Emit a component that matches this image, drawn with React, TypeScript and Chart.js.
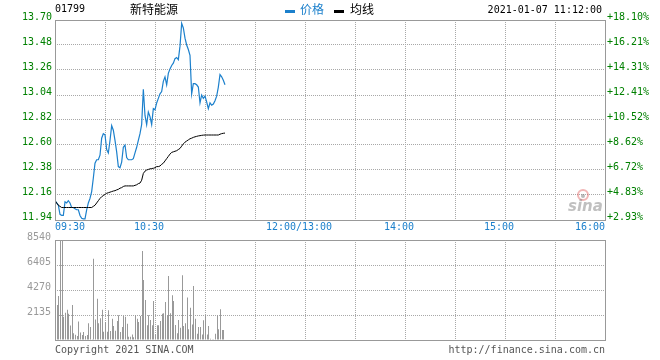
import React, { useEffect, useRef } from "react";
import { Chart, registerables } from "chart.js";
Chart.register(...registerables);

const stockCode = "01799";
const stockName = "新特能源";
const timestamp = "2021-01-07 11:12:00";
const legendPrice = "价格";
const legendAvg = "均线";
const copyrightText = "Copyright 2021 SINA.COM";
const urlText = "http://finance.sina.com.cn";

const priceTicks = [11.94, 12.16, 12.38, 12.6, 12.82, 13.04, 13.26, 13.48, 13.7];
const priceTickLabels = ["11.94", "12.16", "12.38", "12.60", "12.82", "13.04", "13.26", "13.48", "13.70"];
const pctLabels = ["+2.93%", "+4.83%", "+6.72%", "+8.62%", "+10.52%", "+12.41%", "+14.31%", "+16.21%", "+18.10%"];
const volTicks = [0, 2135, 4270, 6405, 8540];
const volTickLabels = ["", "2135", "4270", "6405", "8540"];
const timeTicks = [0, 30, 60, 90, 120, 150, 180, 210, 240, 270, 300, 330];
const timeLabels = ["09:30", "", "10:30", "", "", "12:00/13:00", "", "14:00", "", "15:00", "", "16:00"];

// minute-by-minute values from 09:30 to 11:12
const prices = [
  12.11, 12.09, 12.07, 11.99, 11.98, 11.98, 12.10, 12.09, 12.11, 12.09,
  12.05, 12.05, 12.04, 12.03, 12.03, 11.98, 11.955, 11.95, 11.95, 12.03,
  12.09, 12.13, 12.19, 12.31, 12.44, 12.47, 12.47, 12.51, 12.66, 12.70,
  12.69, 12.56, 12.53, 12.64, 12.77, 12.73, 12.64, 12.54, 12.41, 12.40,
  12.45, 12.58, 12.60, 12.49, 12.47, 12.47, 12.47, 12.48, 12.53, 12.58,
  12.64, 12.70, 12.78, 13.09, 12.86, 12.78, 12.89, 12.85, 12.78, 12.92,
  12.91, 12.97, 13.01, 13.05, 13.07, 13.16, 13.20, 13.13, 13.23, 13.27,
  13.30, 13.32, 13.36, 13.37, 13.35, 13.47, 13.67, 13.63, 13.54, 13.48,
  13.44, 13.39, 13.05, 13.14, 13.14, 13.13, 13.11, 12.97, 13.04, 13.01,
  13.03, 12.98, 12.92, 12.97, 12.95, 12.96, 12.99, 13.03, 13.11, 13.22,
  13.20, 13.17, 13.13,
];

const avgPrices = [
  12.11, 12.09, 12.07, 12.06, 12.05, 12.05, 12.05, 12.05, 12.05, 12.05,
  12.05, 12.05, 12.05, 12.05, 12.05, 12.05, 12.05, 12.05, 12.05, 12.05,
  12.05, 12.05, 12.05, 12.06, 12.07, 12.09, 12.11, 12.13, 12.145, 12.155,
  12.165, 12.175, 12.18, 12.185, 12.19, 12.195, 12.198, 12.205, 12.21, 12.22,
  12.225, 12.235, 12.24, 12.24, 12.24, 12.24, 12.24, 12.24, 12.245, 12.25,
  12.26, 12.265, 12.29, 12.35, 12.37, 12.38, 12.385, 12.39, 12.393, 12.395,
  12.40, 12.41, 12.41, 12.415, 12.43, 12.44, 12.46, 12.48, 12.50, 12.52,
  12.535, 12.54, 12.545, 12.55, 12.56, 12.57, 12.59, 12.61, 12.625, 12.635,
  12.645, 12.655, 12.66, 12.667, 12.672, 12.676, 12.68, 12.682, 12.685, 12.687,
  12.688, 12.688, 12.688, 12.688, 12.688, 12.688, 12.688, 12.688, 12.688, 12.695,
  12.70, 12.703, 12.705,
];

const volumes = [
  0, 2990, 3760, 9600, 9600, 1990, 2330, 2590, 2250, 1240,
  2990, 570, 450, 340, 1590, 630, 430, 680, 340, 430,
  1420, 1100, 60, 6940, 1760, 3530, 1420, 1850, 2590, 710,
  1540, 710, 2530, 770, 1820, 1200, 800, 1620, 2110, 680,
  1100, 2050, 1990, 1390, 280, 280, 480, 230, 2140, 1820,
  1540, 2050, 7600, 5120, 3420, 1250, 2110, 1710, 1250, 3330,
  490, 1250, 1250, 1620, 2250, 2280, 3250, 2110, 5470, 2280,
  3820, 3330, 1280, 580, 1710, 1050, 5520, 1200, 1420, 3620,
  910, 2760, 1330, 4610, 1820, 540, 1100, 1100, 480, 1680,
  2110, 480, 1200, 110, 60, 60, 540, 2110, 910, 2620,
  850, 850, 0,
];

const MONO = "'DejaVu Sans Mono', monospace";
const CJK = "'Noto Sans CJK SC', sans-serif";
const GREEN = "#008000";
const BLUE = "#1c80cc";
const GRID = "#a8a8a8";
const FRAME = "#999999";

const framePlugin = {
  id: "frame",
  afterDraw(chart: any) {
    const { ctx, chartArea } = chart;
    ctx.save();
    ctx.strokeStyle = FRAME;
    ctx.lineWidth = 1;
    ctx.strokeRect(
      Math.round(chartArea.left) + 0.5,
      Math.round(chartArea.top) + 0.5,
      Math.round(chartArea.right - chartArea.left),
      Math.round(chartArea.bottom - chartArea.top)
    );
    ctx.restore();
  },
};

// snap 1px bars to whole device pixels so they render crisp
const crispBars = {
  id: "crispBars",
  beforeDatasetsDraw(chart: any) {
    chart.getSortedVisibleDatasetMetas().forEach((meta: any) => {
      meta.data.forEach((el: any) => {
        el.x = Math.round(el.x) + 0.5;
      });
    });
  },
};

const priceDecor = {
  id: "priceDecor",
  afterDraw(chart: any) {
    const { ctx, scales } = chart;
    const xs = scales.x;
    ctx.save();
    ctx.textBaseline = "middle";
    ctx.fillStyle = "#000";
    ctx.font = `10px ${MONO}`;
    ctx.textAlign = "left";
    ctx.fillText(stockCode, 55, 9);
    ctx.font = `12px ${CJK}`;
    ctx.fillText(stockName, 130, 9);
    ctx.fillStyle = BLUE;
    ctx.fillRect(285, 10, 10, 3);
    ctx.font = `12px ${CJK}`;
    ctx.fillText(legendPrice, 300, 9);
    ctx.fillStyle = "#000";
    ctx.fillRect(334, 10, 10, 3);
    ctx.fillText(legendAvg, 350, 9);
    ctx.font = `10px ${MONO}`;
    ctx.textAlign = "right";
    ctx.fillText(timestamp, 602, 10);
    ctx.fillStyle = BLUE;
    ctx.font = `10px ${MONO}`;
    timeTicks.forEach((t, i) => {
      const lbl = timeLabels[i];
      if (!lbl) return;
      const px = xs.getPixelForValue(t);
      if (i === 0) {
        ctx.textAlign = "left";
        ctx.fillText(lbl, px, 227);
      } else if (i === timeTicks.length - 1) {
        ctx.textAlign = "right";
        ctx.fillText(lbl, px, 227);
      } else {
        ctx.textAlign = "center";
        ctx.fillText(lbl, px - 6, 227);
      }
    });
    ctx.strokeStyle = "rgba(225,90,90,0.45)";
    ctx.lineWidth = 2;
    ctx.beginPath();
    ctx.arc(583, 195, 5, 0, Math.PI * 2);
    ctx.stroke();
    ctx.fillStyle = "rgba(120,120,120,0.5)";
    ctx.beginPath();
    ctx.arc(583, 196, 2, 0, Math.PI * 2);
    ctx.fill();
    ctx.font = `italic bold 15px 'DejaVu Sans', sans-serif`;
    ctx.textAlign = "left";
    ctx.textBaseline = "alphabetic";
    ctx.fillStyle = "rgba(140,140,140,0.55)";
    ctx.fillText("sina", 568, 211);
    ctx.restore();
  },
};

const volDecor = {
  id: "volDecor",
  afterDraw(chart: any) {
    const { ctx } = chart;
    ctx.save();
    ctx.fillStyle = "#555";
    ctx.font = `10px ${MONO}`;
    ctx.textBaseline = "middle";
    ctx.textAlign = "left";
    ctx.fillText(copyrightText, 55, 350);
    ctx.textAlign = "right";
    ctx.fillText(urlText, 605, 350);
    ctx.restore();
  },
};

const xScale = () => ({
  type: "linear" as const,
  min: 0,
  max: 330,
  offset: false,
  afterBuildTicks: (s: any) => {
    s.ticks = timeTicks.map((v) => ({ value: v }));
  },
  ticks: { display: false },
  grid: { color: GRID, lineWidth: 1, drawTicks: false, offset: false },
  border: { display: false, dash: [1, 1] },
});

export default function App() {
  const priceRef = useRef<HTMLCanvasElement>(null);
  const volRef = useRef<HTMLCanvasElement>(null);

  useEffect(() => {
    const priceChart = new Chart(priceRef.current!, {
      type: "line",
      data: {
        datasets: [
          {
            label: legendAvg,
            data: avgPrices.map((v, i) => ({ x: i, y: v })),
            borderColor: "#000",
            borderWidth: 1,
            pointRadius: 0,
            tension: 0,
            yAxisID: "y",
          },
          {
            label: legendPrice,
            data: prices.map((v, i) => ({ x: i, y: v })),
            borderColor: BLUE,
            borderWidth: 1.2,
            pointRadius: 0,
            tension: 0,
            yAxisID: "y",
          },
        ],
      },
      options: {
        animation: false,
        responsive: false,
        maintainAspectRatio: false,
        parsing: false as any,
        layout: { padding: { top: 20, bottom: 140, left: 0, right: 0 } },
        plugins: { legend: { display: false }, tooltip: { enabled: false } },
        scales: {
          x: xScale() as any,
          y: {
            position: "left",
            min: priceTicks[0],
            max: priceTicks[priceTicks.length - 1],
            afterBuildTicks: (s: any) => {
              s.ticks = priceTicks.map((v) => ({ value: v }));
            },
            afterFit: (s: any) => {
              s.width = 55;
            },
            ticks: {
              color: GREEN,
              font: { family: MONO, size: 10 },
              padding: 3,
              labelOffset: -3,
              callback: (_v: any, i: number) => priceTickLabels[i],
            },
            grid: { color: GRID, drawTicks: false },
            border: { display: false, dash: [1, 1] },
          },
          y2: {
            position: "right",
            min: priceTicks[0],
            max: priceTicks[priceTicks.length - 1],
            afterBuildTicks: (s: any) => {
              s.ticks = priceTicks.map((v) => ({ value: v }));
            },
            afterFit: (s: any) => {
              s.width = 55;
            },
            ticks: {
              color: GREEN,
              font: { family: MONO, size: 10 },
              padding: 2,
              labelOffset: -3,
              callback: (_v: any, i: number) => pctLabels[i],
            },
            grid: { display: false, drawTicks: false },
            border: { display: false },
          },
        },
      },
      plugins: [framePlugin, priceDecor],
    });

    const volChart = new Chart(volRef.current!, {
      type: "bar",
      data: {
        datasets: [
          {
            label: "volume",
            data: volumes.map((v, i) => ({ x: i, y: v })),
            backgroundColor: "#999999",
            borderWidth: 0,
            barThickness: 1,
            inflateAmount: 0,
          } as any,
        ],
      },
      options: {
        animation: false,
        responsive: false,
        maintainAspectRatio: false,
        layout: { padding: { top: 240, bottom: 20, left: 0, right: 55 } },
        plugins: { legend: { display: false }, tooltip: { enabled: false } },
        scales: {
          x: xScale() as any,
          y: {
            position: "left",
            min: 0,
            max: volTicks[volTicks.length - 1],
            afterBuildTicks: (s: any) => {
              s.ticks = volTicks.map((v) => ({ value: v }));
            },
            afterFit: (s: any) => {
              s.width = 55;
            },
            ticks: {
              color: "#999999",
              font: { family: MONO, size: 10 },
              padding: 4,
              labelOffset: -3,
              callback: (_v: any, i: number) => volTickLabels[i],
            },
            grid: { color: GRID, drawTicks: false },
            border: { display: false, dash: [1, 1] },
          },
        },
      },
      plugins: [framePlugin, crispBars, volDecor],
    });

    return () => {
      priceChart.destroy();
      volChart.destroy();
    };
  }, []);

  const canvasStyle: React.CSSProperties = {
    position: "absolute",
    left: 0,
    top: 0,
    width: 660,
    height: 360,
  };

  return (
    <div style={{ position: "absolute", left: 0, top: 0, width: 660, height: 360, background: "#fff" }}>
      <canvas ref={volRef} width={660} height={360} style={canvasStyle} />
      <canvas ref={priceRef} width={660} height={360} style={canvasStyle} />
    </div>
  );
}
